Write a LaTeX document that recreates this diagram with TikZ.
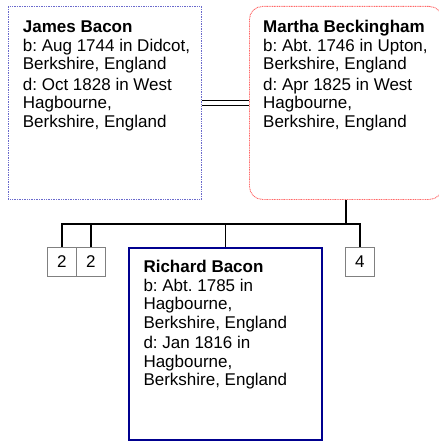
\documentclass[tikz,border=0pt]{standalone}
\usepackage{fontspec}
\setmainfont{Liberation Sans}
\frenchspacing
\definecolor{hisblue}{HTML}{6A6ACC}
\definecolor{herred}{HTML}{FF6A6A}
\definecolor{kidblue}{HTML}{00008F}
\newcommand{\topline}{\rule{0pt}{13pt}}
\begin{document}
\begin{tikzpicture}[x=1pt,y=1pt,
    box/.style={anchor=north west, inner sep=0pt, minimum width=193pt, minimum height=193pt},
    husband/.style={box, draw=hisblue, line width=0.9pt, dash pattern=on 1pt off 0.7pt},
    wife/.style={box, draw=herred, line width=0.9pt, dash pattern=on 1pt off 0.7pt, rounded corners=13pt},
    child/.style={box, draw=kidblue, line width=1.8pt, minimum height=192pt},
    more/.style={anchor=north west, draw=gray, line width=0.8pt, minimum width=29pt, minimum height=29pt,
        inner sep=0pt, font=\fontsize{17}{18.5}\selectfont},
    info/.style={anchor=north west, inner sep=0pt, align=left, font=\fontsize{17}{18.5}\selectfont},
    link/.style={line width=1.6pt}]
    \useasboundingbox (0,0) rectangle (438,-446);

    % Pais
    \node[husband] (james) at (8,-6) {};
    \node[wife] (martha) at (249,-6) {};
    \node[info] (jamestxt) at (22.7,-19.7) {\topline\textbf{James Bacon}\\
        b: Aug 1744 in Didcot,\\ Berkshire, England\\[2pt]
        d: Oct 1828 in West\\ Hagbourne,\\ Berkshire, England};
    \node[info] (marthatxt) at (263,-19.7) {\topline\textbf{Martha Beckingham}\\
        b: Abt. 1746 in Upton,\\ Berkshire, England\\[2pt]
        d: Apr 1825 in West\\ Hagbourne,\\ Berkshire, England};

    % Filhos
    \node[more] (kida) at (47,-247) {2};
    \node[more] (kidb) at (76,-247) {2};
    \node[child] (richard) at (128,-247) {};
    \node[more] (kidd) at (345,-247) {4};
    \node[info] (richardtxt) at (143.3,-259.7) {\topline\textbf{Richard Bacon}\\
        b: Abt. 1785 in\\ Hagbourne,\\ Berkshire, England\\[2pt]
        d: Jan 1816 in\\ Hagbourne,\\ Berkshire, England};

    % Ligacoes
    \draw[line width=1.2pt, double, double distance=3.6pt] (james.east) -- (martha.west);
    \coordinate (fam) at ([yshift=-24pt]martha.south);
    \draw[link] (martha.south) -- (fam);
    \draw[link] (kida.north) |- (fam) -| (kidd.north);
    \draw[link] (kidb.north) -- (kidb.north |- fam);
    \draw[link] (richard.north) -- (richard.north |- fam);
\end{tikzpicture}
\end{document}
